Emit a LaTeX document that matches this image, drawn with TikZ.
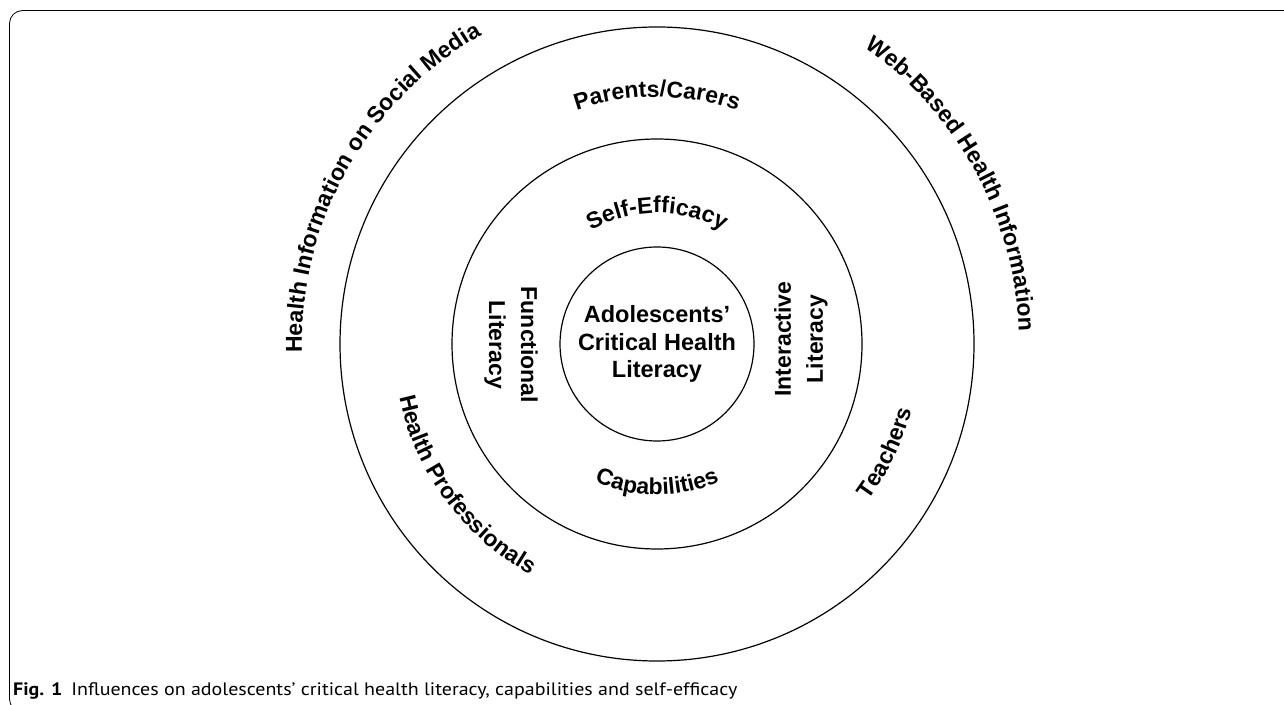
\documentclass[tikz,border=0pt]{standalone}
\usepackage{fontspec}
\setmainfont{Liberation Sans}
\newfontfamily\capfont{PT Sans}[FakeStretch=1.11]
\usepackage{tikz}
\usetikzlibrary{positioning, decorations.text}

\newcommand{\lbl}{\fontsize{23}{32}\selectfont\bfseries}

\begin{document}
\begin{tikzpicture}[x=1pt, y=1pt,
	ring/.style={draw, circle, line width=1.2pt, inner sep=0pt},
	flat/.style={font=\lbl, align=center},
	arclabel/.style={decorate, decoration={text along path, text align=center, text={|\lbl|#1}}}]

\useasboundingbox (0,0) rectangle (1284,704);

% frame round the figure
\draw [line width=0.8pt, rounded corners=13pt] (1300,-8) -- (9.5,-8) -- (9.5,693.5) -- (1300,693.5);

\node [ring, minimum size=634pt] (3) at (657,360) {};
\node [ring, minimum size=410pt] (2) at (657,360) {};
\node [ring, minimum size=194pt, align=center, font=\fontsize{23.5}{27.5}\selectfont\bfseries] (1) at (657,360) {
	Adolescents’ \\
	Critical Health \\
	Literacy
};

% middle ring
\node [flat, rotate=-90] (func) at (511,359) {Functional \\ Literacy};
\node [flat, rotate=90] (inter) at (801,365) {Interactive \\ Literacy};
\path [arclabel=Self-Efficacy] (1.center) ++(135:131) arc [start angle=135, end angle=45, radius=131];
\path [arclabel=Capabilities] (1.center) ++(230:151) arc [start angle=230, end angle=310, radius=151];

% outer ring
\path [arclabel=Parents/Carers] (1.center) ++(130:247) arc [start angle=130, end angle=50, radius=247];
\path [arclabel=Health Professionals] (1.center) ++(176.5:263) arc [start angle=176.5, end angle=256.5, radius=263];
\path [arclabel=Teachers] (1.center) ++(304.5:263) arc [start angle=304.5, end angle=364.5, radius=263];

% outside
\path [arclabel=Health Information on Social Media] (1.center) ++(195.5:355) arc [start angle=195.5, end angle=105.5, radius=355];
\path [arclabel=Web-Based Health Information] (1.center) ++(73.5:362) arc [start angle=73.5, end angle=-16.5, radius=362];

\node [anchor=base west, inner sep=0pt, font=\capfont\fontsize{18}{20}\selectfont] (cap) at (13,9) {\textbf{Fig. 1}\hspace{9pt}Influences on adolescents’ critical health literacy, capabilities and self-efficacy};

\end{tikzpicture}
\end{document}
